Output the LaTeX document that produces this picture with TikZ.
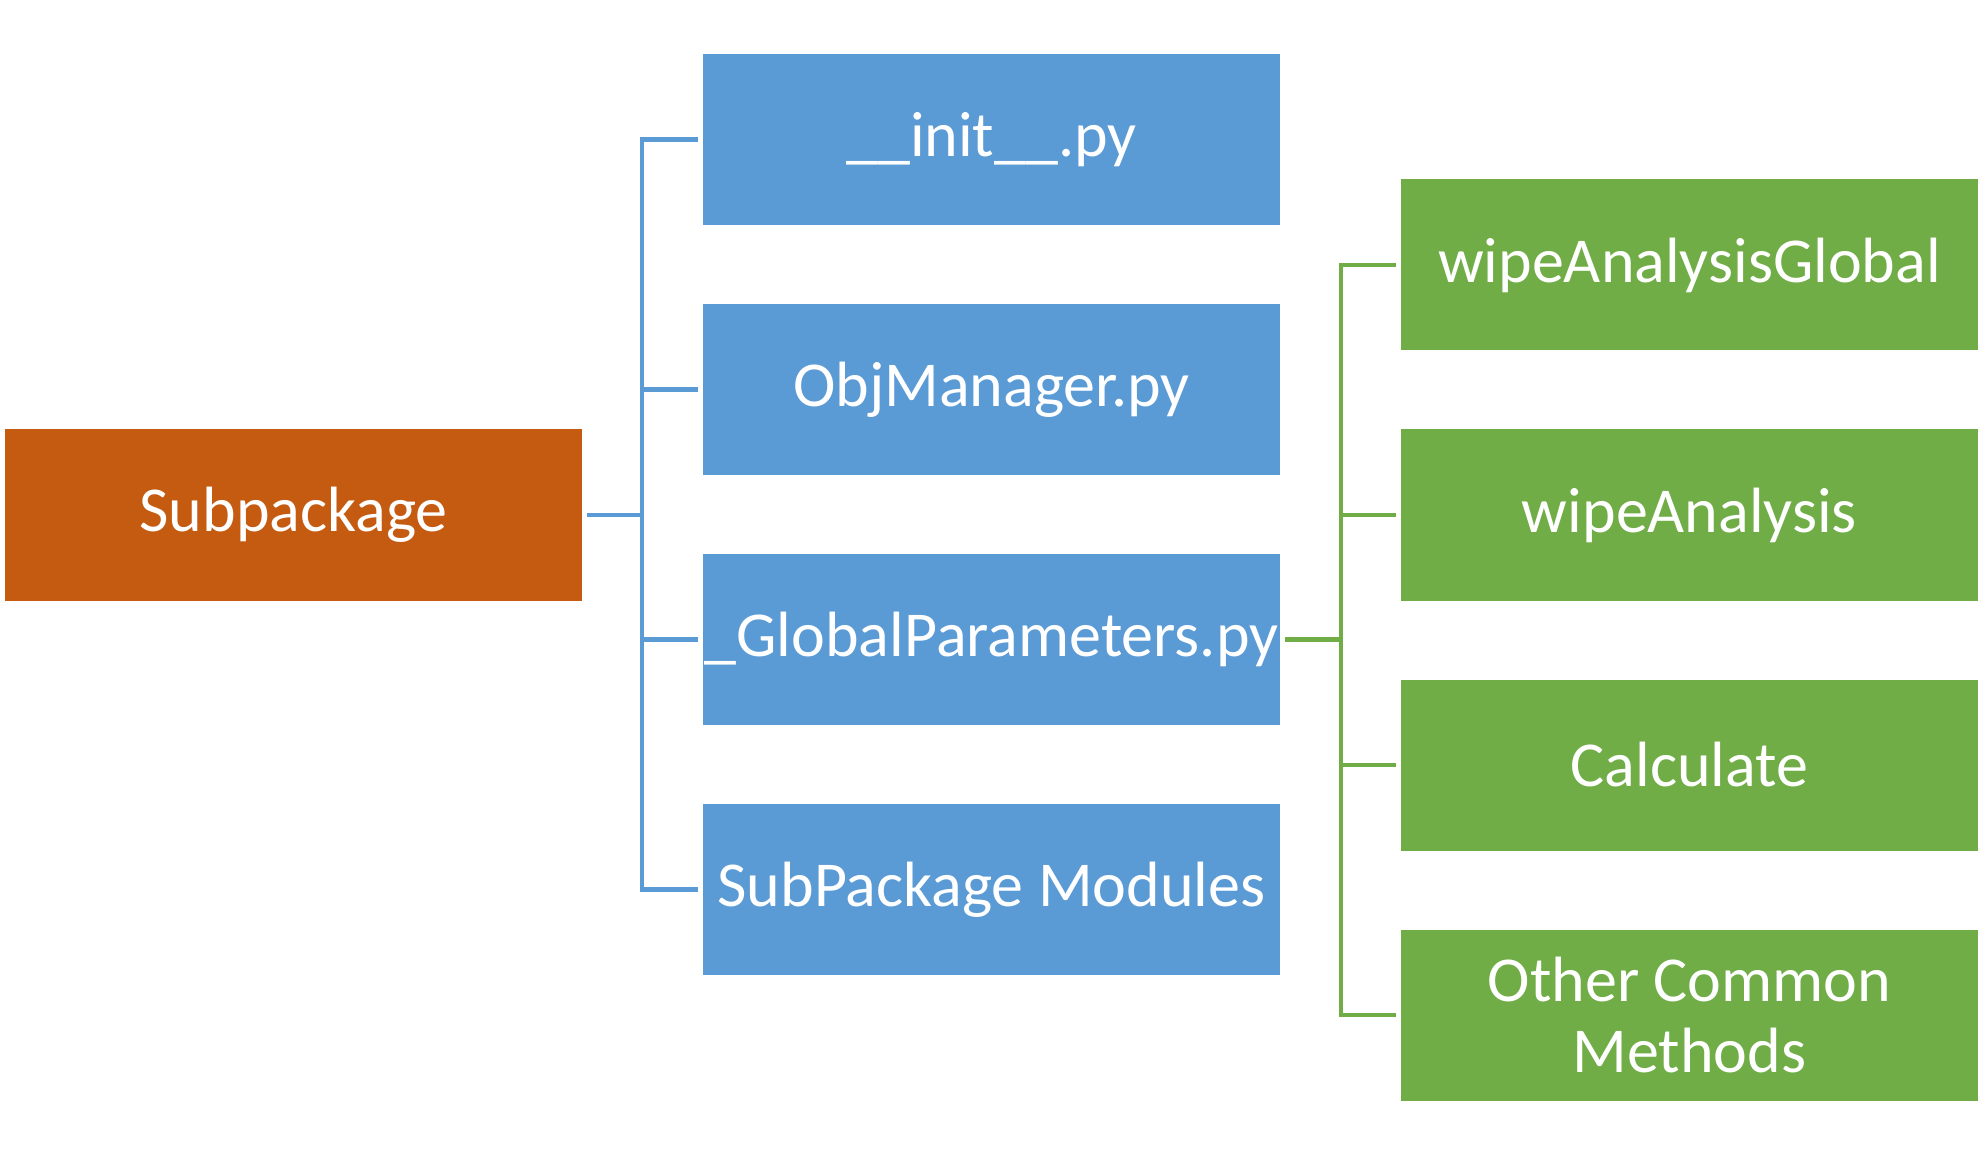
\documentclass[tikz,border=0pt]{standalone}
\usepackage{fontspec}
\setmainfont{Carlito}
\definecolor{cblue}{HTML}{5B9BD5}
\definecolor{corange}{HTML}{C55A11}
\definecolor{cgreen}{HTML}{70AD47}
\begin{document}
\begin{tikzpicture}[x=0.5pt,y=-0.5pt,
  box/.style={rectangle,minimum width=288.5pt,minimum height=85.5pt,inner sep=0pt,text=white,font=\fontsize{32}{35.5}\selectfont,align=center},
  bluebox/.style={box,fill=cblue},
  greenbox/.style={box,fill=cgreen},
  orangebox/.style={box,fill=corange},
  bline/.style={draw=cblue,line width=2.4pt},
  gline/.style={draw=cgreen,line width=2.4pt}]
\useasboundingbox (0,0) rectangle (1983,1155);
\node[orangebox] (sub) at (293.5,515) {\raisebox{-1.2pt}{Subpackage}};
\node[bluebox] (b1) at (991.5,139.5) {\raisebox{-1.2pt}{\_\_init\_\_.py}};
\node[bluebox] (b2) at (991.5,389.5) {\raisebox{-1.2pt}{ObjManager.py}};
\node[bluebox] (b3) at (991.5,639.5) {\raisebox{-1.2pt}{\_GlobalParameters.py}};
\node[bluebox] (b4) at (991.5,889.5) {\raisebox{-1.2pt}{SubPackage Modules}};
\node[greenbox] (g1) at (1689.5,265) {\raisebox{-1.2pt}{wipeAnalysisGlobal}};
\node[greenbox] (g2) at (1689.5,515) {\raisebox{-1.2pt}{wipeAnalysis}};
\node[greenbox] (g3) at (1689.5,765) {Calculate};
\node[greenbox] (g4) at (1689.5,1015) {Other Common\\Methods};
\coordinate (bt) at (642,515);
\coordinate (gt) at (1341,639.5);
\draw[bline] ([xshift=2.5pt]sub.east) -- (bt);
\draw[bline] (bt) |- ([xshift=-2.5pt]b1.west);
\draw[bline] (bt) |- ([xshift=-2.5pt]b2.west);
\draw[bline] (bt) |- ([xshift=-2.5pt]b3.west);
\draw[bline] (bt) |- ([xshift=-2.5pt]b4.west);
\draw[gline] ([xshift=2.5pt]b3.east) -- (gt);
\draw[gline] (gt) |- ([xshift=-2.5pt]g1.west);
\draw[gline] (gt) |- ([xshift=-2.5pt]g2.west);
\draw[gline] (gt) |- ([xshift=-2.5pt]g3.west);
\draw[gline] (gt) |- ([xshift=-2.5pt]g4.west);
\end{tikzpicture}
\end{document}
